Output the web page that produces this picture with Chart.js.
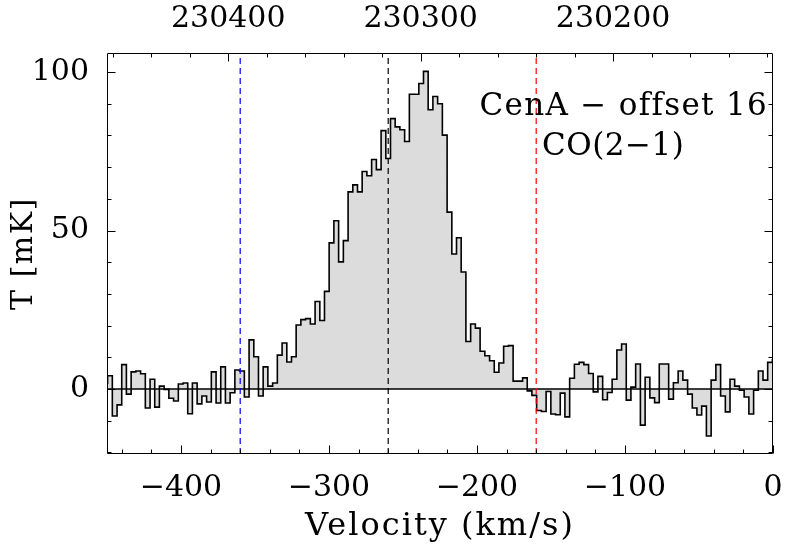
<!DOCTYPE html>
<html><head><meta charset="utf-8">
<script src="https://cdn.jsdelivr.net/npm/chart.js@4.4.0/dist/chart.umd.min.js"></script>
<style>html,body{margin:0;padding:0;background:#fff;}</style>
</head><body>
<canvas id="c" width="800" height="560"></canvas>
<script>
// Channel centre velocities (km/s)
const velocity = [
-451.2,-448.0,-444.8,-441.6,-438.5,-435.3,-432.1,-428.9,-425.7,-422.5,
-419.3,-416.2,-413.0,-409.8,-406.6,-403.4,-400.2,-397.0,-393.9,-390.7,
-387.5,-384.3,-381.1,-377.9,-374.7,-371.6,-368.4,-365.2,-362.0,-358.8,
-355.6,-352.4,-349.2,-346.1,-342.9,-339.7,-336.5,-333.3,-330.1,-326.9,
-323.8,-320.6,-317.4,-314.2,-311.0,-307.8,-304.6,-301.5,-298.3,-295.1,
-291.9,-288.7,-285.5,-282.3,-279.2,-276.0,-272.8,-269.6,-266.4,-263.2,
-260.0,-256.9,-253.7,-250.5,-247.3,-244.1,-240.9,-237.7,-234.6,-231.4,
-228.2,-225.0,-221.8,-218.6,-215.4,-212.3,-209.1,-205.9,-202.7,-199.5,
-196.3,-193.1,-189.9,-186.8,-183.6,-180.4,-177.2,-174.0,-170.8,-167.6,
-164.5,-161.3,-158.1,-154.9,-151.7,-148.5,-145.3,-142.2,-139.0,-135.8,
-132.6,-129.4,-126.2,-123.0,-119.9,-116.7,-113.5,-110.3,-107.1,-103.9,
-100.7,-97.6,-94.4,-91.2,-88.0,-84.8,-81.6,-78.4,-75.3,-72.1,
-68.9,-65.7,-62.5,-59.3,-56.1,-53.0,-49.8,-46.6,-43.4,-40.2,
-37.0,-33.8,-30.6,-27.5,-24.3,-21.1,-17.9,-14.7,-11.5,-8.3,
-5.2,-2.0,1.2
];
// Antenna temperature (mK)
const temperature = [
1.8,4.2,-8.5,-5.0,7.7,-1.6,5.4,5.7,4.8,-6.0,
3.1,-5.7,0.9,-0.1,-2.9,-3.8,1.6,1.9,-7.8,1.9,
-4.7,-2.2,-4.1,5.4,-4.4,7.0,-4.4,-1.2,6.0,5.7,
-2.5,15.5,10.2,-2.2,7.0,0.9,1.9,10.7,14.5,8.5,
10.2,20.2,21.9,22.2,20.5,27.6,21.6,30.8,46.1,53.1,
40.1,46.8,62.2,64.4,62.2,68.6,67.3,72.4,69.2,81.5,
72.7,85.3,82.7,81.8,78.1,93.0,93.0,96.4,100.2,88.1,
92.3,90.0,80.1,55.8,42.6,47.7,36.9,15.0,20.5,19.2,
11.9,10.5,8.9,5.3,8.2,13.5,13.7,2.5,2.5,3.5,
-0.6,-2.0,-6.8,-7.1,-0.8,-7.9,-8.1,-1.3,-8.8,3.4,
7.8,8.4,7.7,4.9,-0.9,4.0,-3.4,-1.1,3.1,12.3,
14.2,-3.5,0.6,7.9,-11.4,3.7,-2.8,-4.3,7.9,7.9,
-3.2,2.0,5.7,2.8,-1.6,-6.0,-8.2,-5.4,-14.8,2.8,
7.7,-2.2,-7.2,3.1,0.9,-0.4,-2.5,-7.9,-0.4,5.7,
2.8,8.4,9.2
];
// Vertical marker lines
const markerVelocity = [-360, -260, -160];
const markerColor = ['#0000ff', '#000000', '#ff0000'];
// Tick labels
const velocityTicks = [-400, -300, -200, -100, 0];
const temperatureTicks = [0, 50, 100];
const frequencyTicks = [230400, 230300, 230200];
// Axis limits
const vMin = -450, vMax = 0;
const tMin = -20.5, tMax = 106;
const fLeft = 230463.0, fRight = 230116.9;   // MHz at vMin / vMax
const titleLines = ['CenA \u2212 offset 16', 'CO(2\u22121)'];

const FONT = 'DejaVu Serif';
const fmt = v => (v < 0 ? '\u2212' : '') + Math.abs(v);

// widen axis titles slightly (letter spacing) like the original vector font
function spacedTitle(spacing) {
  return s => {
    if (s._spacedTitle) return;
    s._spacedTitle = true;
    const orig = s.drawTitle.bind(s);
    s.drawTitle = function () {
      const ctx = this.ctx;
      ctx.save();
      ctx.letterSpacing = spacing;
      orig();
      ctx.restore();
    };
  };
}

const datasets = [];
markerVelocity.forEach((v, i) => datasets.push({
  data: [{x: v, y: tMin}, {x: v, y: tMax}],
  borderColor: markerColor[i], borderWidth: 1.2, borderDash: [6, 4],
  pointRadius: 0, fill: false, order: 1
}));
datasets.push({
  data: [{x: vMin, y: 0}, {x: vMax, y: 0}],
  borderColor: '#000', borderWidth: 1.4, pointRadius: 0, fill: false, order: 2
});
datasets.push({
  data: velocity.map((v, i) => ({x: v, y: temperature[i]})),
  stepped: 'middle', borderColor: '#000', borderWidth: 1.6,
  backgroundColor: '#dcdcdc', fill: 'origin', pointRadius: 0, order: 3
});

const frameTicks = {
  id: 'frameTicks',
  afterDatasetsDraw(chart) {
    const {ctx, chartArea: a, scales} = chart;
    const xs = scales.x, ys = scales.y, fs = scales.x2;
    ctx.save();
    ctx.strokeStyle = '#000';
    ctx.lineWidth = 1;
    const L = Math.round(a.left) + 0.5, R = Math.round(a.right) - 0.5;
    const T = Math.round(a.top) + 0.5, B = Math.round(a.bottom) - 0.5;
    ctx.beginPath();
    ctx.rect(L, T, R - L, B - T);
    // bottom velocity ticks
    for (let v = -440; v <= vMax; v += 20) {
      const px = Math.round(xs.getPixelForValue(v)) + 0.5;
      const len = v % 100 === 0 ? 8 : 4;
      ctx.moveTo(px, B); ctx.lineTo(px, B - len);
    }
    // top frequency ticks
    for (let f = 230460; f >= 230120; f -= 20) {
      const px = Math.round(fs.getPixelForValue(f)) + 0.5;
      const len = f % 100 === 0 ? 8 : 4;
      ctx.moveTo(px, T); ctx.lineTo(px, T + len);
    }
    // left / right temperature ticks
    for (let t = -20; t <= 100; t += 10) {
      const py = Math.round(ys.getPixelForValue(t)) + 0.5;
      const len = t % 50 === 0 ? 8 : 4;
      ctx.moveTo(L, py); ctx.lineTo(L + len, py);
      ctx.moveTo(R, py); ctx.lineTo(R - len, py);
    }
    ctx.stroke();
    // annotation
    ctx.fillStyle = '#000';
    ctx.font = '31px "' + FONT + '"';
    ctx.textBaseline = 'alphabetic';
    ctx.textAlign = 'center';
    ctx.letterSpacing = '1.3px';
    ctx.fillText(titleLines[0], a.left + (a.right - a.left) * 0.776, a.top + 62);
    ctx.letterSpacing = '0.5px';
    ctx.fillText(titleLines[1], a.left + (a.right - a.left) * 0.76, a.top + 102);
    ctx.restore();
  }
};

new Chart(document.getElementById('c'), {
  type: 'line',
  data: {datasets},
  options: {
    responsive: false, animation: false, devicePixelRatio: 1,
    layout: {padding: {left: 0, right: 27, top: 0, bottom: 0}},
    plugins: {legend: {display: false}, tooltip: {enabled: false}},
    scales: {
      x: {
        type: 'linear', position: 'bottom', min: vMin, max: vMax,
        grid: {display: false, drawTicks: false}, border: {display: false},
        afterBuildTicks: s => { s.ticks = velocityTicks.map(v => ({value: v})); },
        afterFit: s => { s.height = 106; },
        afterUpdate: spacedTitle('2px'),
        ticks: {color: '#000', font: {family: FONT, size: 30}, padding: 16, maxRotation: 0, autoSkip: false, callback: fmt},
        title: {display: true, text: 'Velocity (km/s)', color: '#000', font: {family: FONT, size: 32}, padding: {top: 0, bottom: 14}}
      },
      x2: {
        type: 'linear', position: 'top', min: fRight, max: fLeft, reverse: true,
        grid: {display: false, drawTicks: false}, border: {display: false},
        afterBuildTicks: s => { s.ticks = frequencyTicks.map(v => ({value: v})); },
        afterFit: s => { s.height = 53; },
        ticks: {color: '#000', font: {family: FONT, size: 30}, padding: 16, maxRotation: 0, autoSkip: false, callback: v => String(v)}
      },
      y: {
        type: 'linear', position: 'left', min: tMin, max: tMax,
        grid: {display: false, drawTicks: false}, border: {display: false},
        afterBuildTicks: s => { s.ticks = temperatureTicks.map(v => ({value: v})); },
        afterFit: s => { s.width = 107; },
        afterUpdate: spacedTitle('1.5px'),
        ticks: {color: '#000', font: {family: FONT, size: 30}, padding: 18, autoSkip: false, callback: fmt},
        title: {display: true, text: 'T [mK]', color: '#000', font: {family: FONT, size: 30}, padding: {top: 6, bottom: 0}}
      }
    }
  },
  plugins: [frameTicks]
});
</script>
</body></html>
